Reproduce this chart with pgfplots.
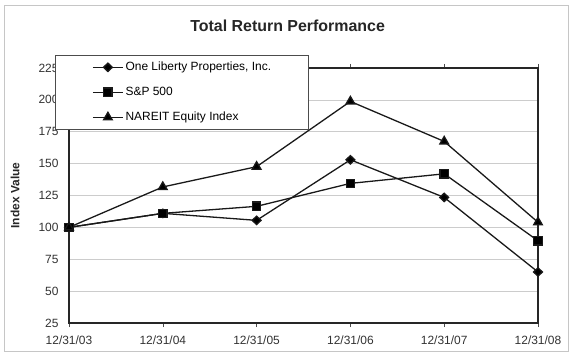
\documentclass[border=0pt]{standalone}
\usepackage{pgfplots}
\pgfplotsset{compat=1.18}
\usepackage{fontspec}
\setmainfont{Liberation Sans}
\begin{document}
\begin{tikzpicture}
\path[use as bounding box, fill=white] (-69bp,-33bp) rectangle (507bp,323bp);
\draw[gray!45, line width=0.8pt] (-65bp,-28bp) rectangle (499bp,318bp);
\node[font=\fontsize{16}{19}\selectfont\bfseries, text=black!85] at (218.6bp,297bp) {Total Return Performance};
\begin{axis}[
  scale only axis,
  width=469bp, height=255bp,
  at={(0,0)}, anchor=south west,
  xmin=0, xmax=5, ymin=25, ymax=225,
  xtick={0,1,2,3,4,5},
  xticklabels={12/31/03,12/31/04,12/31/05,12/31/06,12/31/07,12/31/08},
  ytick={25,50,75,100,125,150,175,200,225},
  ymajorgrids,
  grid style={gray!40, line width=0.7pt},
  axis line style={black!85, line width=1.1pt},
  tick align=outside,
  major tick length=4bp,
  tick style={black!70, line width=0.6pt},
  ytick style={draw=none},
  ticklabel style={font=\fontsize{12}{14}\selectfont, text=black!80},
  xticklabel style={yshift=-5bp},
  yticklabel style={xshift=-3bp},
  /pgf/number format/assume math mode=true,
  ylabel={Index Value},
  ylabel style={font=\fontsize{12}{14}\selectfont\bfseries, text=black!85, at={(axis description cs:-0.115,0.5)}, anchor=center},
  legend cell align=left,
  legend style={at={(axis description cs:-0.0299,1.051)}, anchor=north west,
    draw=black!70, line width=0.6pt, fill=white,
    font=\fontsize{12}{14}\selectfont,
    inner xsep=37bp, inner ysep=6bp, row sep=13bp,
    /tikz/every node/.style={anchor=west, inner sep=0pt, text height=9bp, text depth=3bp},
    /tikz/column sep=2bp},
  legend image code/.code={\draw[mark repeat=2,mark phase=2,#1] plot coordinates {(0bp,0bp)(15bp,0bp)(30bp,0bp)};},
  every axis plot/.append style={black!90, line width=1.3pt},
]
\addplot[mark=diamond*, mark size=4.2bp, mark options={solid, fill=black, xscale=1.4}] coordinates {
(0,100) (1,111) (2,105.5) (3,153) (4,123.5) (5,65)};
\addlegendentry{One Liberty Properties, Inc.}
\addplot[mark=square*, mark size=4.2bp, mark options={solid, fill=black}] coordinates {
(0,100) (1,111) (2,116.5) (3,134.5) (4,142) (5,89.5)};
\addlegendentry{S\&P 500}
\addplot[mark=triangle*, mark size=5bp, mark options={solid, fill=black}] coordinates {
(0,100) (1,131.7) (2,147.6) (3,198.8) (4,167.4) (5,104)};
\addlegendentry{NAREIT Equity Index}
\end{axis}
\end{tikzpicture}
\end{document}
